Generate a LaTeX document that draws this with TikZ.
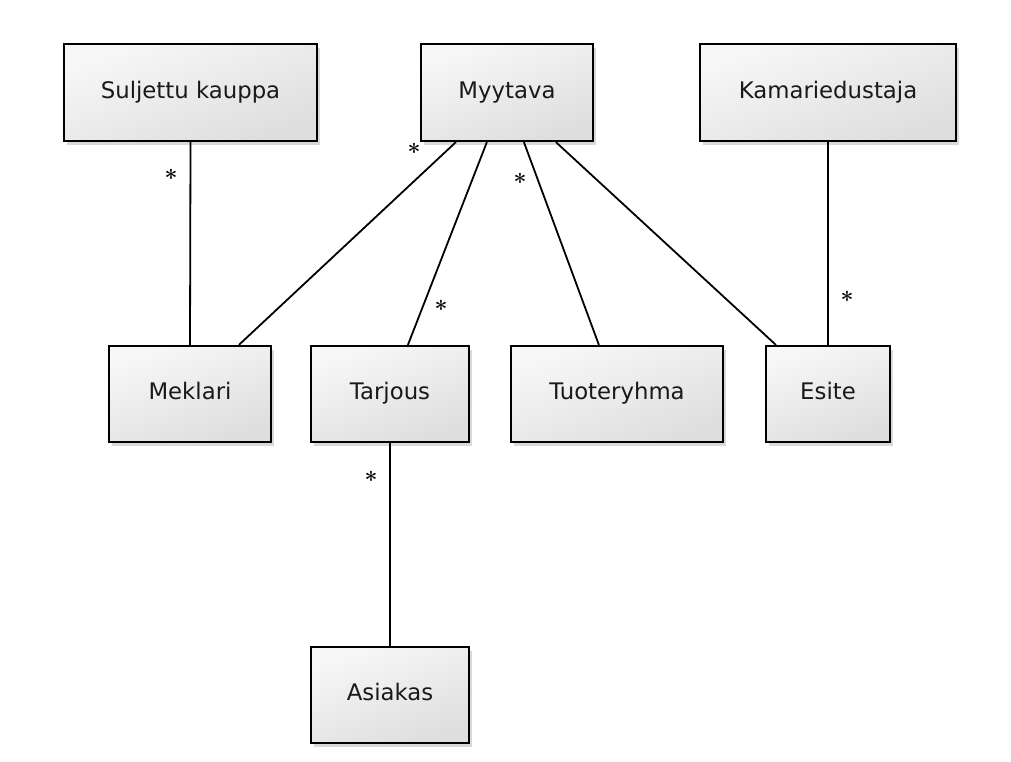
\documentclass[tikz,border=0pt]{standalone}
\usepackage{fontspec}
\setmainfont{DejaVu Sans}
\newfontfamily\starfont{Latin Modern Roman}
\usetikzlibrary{shadows,calc}
\tikzset{
  entity/.style={draw=black, line width=2.2pt, rectangle, inner sep=0pt,
    top color=black!3, bottom color=black!13, shading angle=20,
    drop shadow={shadow xshift=3pt, shadow yshift=-4pt, opacity=0.25, fill=black!60},
    font=\fontsize{22.8}{26}\selectfont, text=black!90,
    text height=17pt, text depth=6pt},
  link/.style={line width=1.8pt, black},
  mult/.style={font=\starfont\bfseries\fontsize{23}{26}\selectfont, inner sep=0pt, text=black,
    text height=9pt, text depth=0pt}
}
\begin{document}
\begin{tikzpicture}[x=1pt,y=-1pt]
\useasboundingbox (0,0) rectangle (1011,761);
\node[entity, minimum width=253pt, minimum height=97pt] (sul) at (190.5,92.5) {Suljettu kauppa};
\node[entity, minimum width=172pt, minimum height=97pt] (myy) at (507,92.5) {Myytava};
\node[entity, minimum width=256pt, minimum height=97pt] (kam) at (828,92.5) {Kamariedustaja};
\node[entity, minimum width=162pt, minimum height=96pt] (mek) at (190,394) {Meklari};
\node[entity, minimum width=158pt, minimum height=96pt] (tar) at (390,394) {Tarjous};
\node[entity, minimum width=212pt, minimum height=96pt] (tuo) at (617,394) {Tuoteryhma};
\node[entity, minimum width=124pt, minimum height=96pt] (esi) at (828,394) {Esite};
\node[entity, minimum width=158pt, minimum height=96pt] (asi) at (390,695) {Asiakas};

\draw[link] (sul.south) -- (mek.north);
\draw[link] ([xshift=36pt]myy.south west) -- ([xshift=131pt]mek.north west);
\draw[link] ([xshift=67pt]myy.south west) -- ([xshift=98pt]tar.north west);
\draw[link] ([xshift=104pt]myy.south west) -- ([xshift=89pt]tuo.north west);
\draw[link] ([xshift=136pt]myy.south west) -- ([xshift=11pt]esi.north west);
\draw[link] (kam.south) -- (esi.north);
\draw[link] (tar.south) -- (asi.north);

\node[mult] (m1) at (171,182) {*};
\node[mult] (m2) at (414,156) {*};
\node[mult] (m3) at (441,313) {*};
\node[mult] (m4) at (520,186) {*};
\node[mult] (m5) at (847,304) {*};
\node[mult] (m6) at (371,484) {*};
\end{tikzpicture}
\end{document}
